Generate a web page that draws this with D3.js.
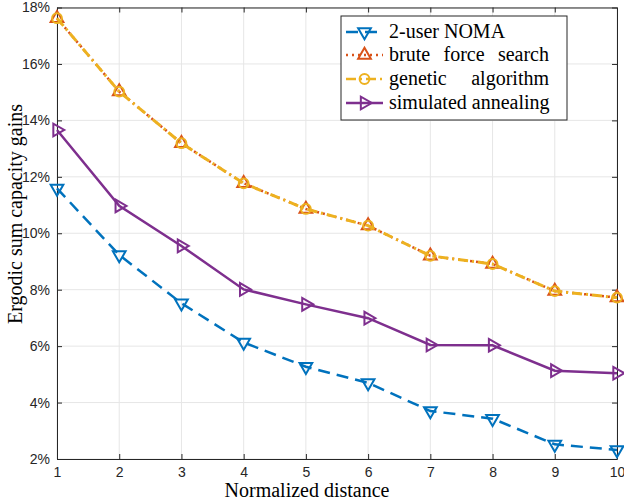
<!DOCTYPE html>
<html>

<head>
    <style>
        body {
            margin: 0;
            background: #fff;
        }

        svg {
            display: block;
        }
    </style>
    <script src="https://cdn.jsdelivr.net/npm/d3@7"></script>
    <title>Ergodic sum capacity gains</title>
</head>

<body>
    <div id="chart"></div>

    <script>
        // Data
        const distances = [1, 2, 3, 4, 5, 6, 7, 8, 9, 10];
        const noma2 = [11.59, 9.23, 7.52, 6.13, 5.27, 4.70, 3.70, 3.43, 2.52, 2.32];
        const bruteForce = [17.62, 15.02, 13.19, 11.77, 10.86, 10.27, 9.20, 8.91, 7.95, 7.72];
        const genetic = [17.62, 15.02, 13.19, 11.77, 10.86, 10.27, 9.20, 8.91, 7.95, 7.72];
        const annealing = [13.66, 10.97, 9.55, 8.01, 7.48, 6.99, 6.04, 6.03, 5.13, 5.04];
        const yTicks = [2, 4, 6, 8, 10, 12, 14, 16, 18];
        const seriesNames = ["2-user NOMA", "brute force search", "genetic algorithm", "simulated annealing"];

        const width = 624, height = 503;
        const margin = { top: 7.5, right: 7, bottom: 44, left: 57 };
        const axisColor = "#262626";

        const svg = d3.select("#chart").append("svg")
            .attr("width", width)
            .attr("height", height);

        const x = d3.scaleLinear().domain([1, 10]).range([margin.left, width - margin.right]);
        const y = d3.scaleLinear().domain([2, 18]).range([height - margin.bottom, margin.top]);

        // grid
        const grid = svg.append("g").attr("stroke", "#e6e6e6").attr("stroke-width", 1);
        grid.selectAll(".gx").data(distances).enter().append("line")
            .attr("x1", d => x(d)).attr("x2", d => x(d))
            .attr("y1", y(2)).attr("y2", y(18));
        grid.selectAll(".gy").data(yTicks).enter().append("line")
            .attr("x1", x(1)).attr("x2", x(10))
            .attr("y1", d => y(d)).attr("y2", d => y(d));

        // axes (MATLAB box style, ticks inside)
        const tickFont = "'Liberation Sans', Arial, sans-serif";
        const xAxis = svg.append("g")
            .attr("transform", `translate(0,${y(2)})`)
            .call(d3.axisBottom(x).tickValues(distances).tickSizeInner(-5).tickSizeOuter(0).tickPadding(10).tickFormat(d3.format("d")));
        const yAxis = svg.append("g")
            .attr("transform", `translate(${x(1)},0)`)
            .call(d3.axisLeft(y).tickValues(yTicks).tickSizeInner(-5).tickSizeOuter(0).tickPadding(7).tickFormat(d => d + "%"));
        const xTop = svg.append("g")
            .attr("transform", `translate(0,${y(18)})`)
            .call(d3.axisTop(x).tickValues(distances).tickSizeInner(-5).tickSizeOuter(0).tickFormat(""));
        const yRight = svg.append("g")
            .attr("transform", `translate(${x(10)},0)`)
            .call(d3.axisRight(y).tickValues(yTicks).tickSizeInner(-5).tickSizeOuter(0).tickFormat(""));

        [xAxis, yAxis, xTop, yRight].forEach(g => {
            g.selectAll("path.domain").attr("stroke", axisColor).attr("stroke-width", 1);
            g.selectAll(".tick line").attr("stroke", axisColor).attr("stroke-width", 1);
            g.selectAll(".tick text").attr("fill", axisColor)
                .style("font-family", tickFont).style("font-size", "14px");
        });
        xAxis.selectAll(".tick text").attr("dy", "0.6em");

        // axis titles
        const serif = "'Liberation Serif', 'Times New Roman', serif";
        svg.append("text")
            .attr("x", 307).attr("y", 497)
            .attr("text-anchor", "middle")
            .style("font-family", serif).style("font-size", "20px").attr("fill", "#000")
            .text("Normalized distance");
        svg.append("text")
            .attr("transform", "translate(22,214) rotate(-90)")
            .attr("text-anchor", "middle")
            .style("font-family", serif).style("font-size", "20px").attr("fill", "#000")
            .text("Ergodic sum capacity gains");

        // series
        const series = [
            { name: seriesNames[0], values: noma2, color: "#0072BD", dash: "12,7", marker: "down", width: 2.5 },
            { name: seriesNames[1], values: bruteForce, color: "#D95319", dash: "2,4", marker: "up", width: 2.5 },
            { name: seriesNames[2], values: genetic, color: "#EDB120", dash: "10,4,2,4", marker: "circle", width: 3 },
            { name: seriesNames[3], values: annealing, color: "#7E2F8E", dash: null, marker: "right", width: 2.5 }
        ];

        const line = d3.line().x((d, i) => x(distances[i])).y(d => y(d));

        const markerPath = (type) => {
            if (type === "circle") return d3.symbol(d3.symbolCircle, 75)();
            return d3.symbol(d3.symbolTriangle, 70)();
        };
        const markerRotate = { up: 0, down: 180, right: 90, circle: 0 };

        const drawMarker = (g, type, color, cx, cy) => {
            g.append("path")
                .attr("d", markerPath(type))
                .attr("transform", `translate(${cx},${cy}) rotate(${markerRotate[type]})`)
                .attr("fill", "none")
                .attr("stroke", color)
                .attr("stroke-width", 2);
        };

        const plot = svg.append("g");
        series.forEach(s => {
            const g = plot.append("g");
            g.append("path")
                .datum(s.values)
                .attr("d", line)
                .attr("fill", "none")
                .attr("stroke", s.color)
                .attr("stroke-width", s.width)
                .attr("stroke-dasharray", s.dash);
            s.values.forEach((v, i) => drawMarker(g, s.marker, s.color, x(distances[i]), y(v)));
        });

        // legend
        const lg = svg.append("g");
        lg.append("rect")
            .attr("x", 341).attr("y", 16)
            .attr("width", 226).attr("height", 104)
            .attr("fill", "#fff").attr("stroke", axisColor).attr("stroke-width", 1);

        const rowY = [32, 55, 79, 103];
        series.forEach((s, i) => {
            const ly = rowY[i];
            lg.append("line")
                .attr("x1", 346).attr("x2", 383)
                .attr("y1", ly).attr("y2", ly)
                .attr("stroke", s.color).attr("stroke-width", 2.5)
                .attr("stroke-dasharray", s.dash);
            drawMarker(lg, s.marker, s.color, 364.5, ly);
            const t = lg.append("text")
                .attr("x", 389).attr("y", ly + 6)
                .style("font-family", serif).style("font-size", "20px").attr("fill", "#000")
                .text(s.name);
            // justify the two middle rows to the right edge of the last row
            if (i === 1 || i === 2) {
                const natural = t.node().getComputedTextLength();
                const gaps = s.name.split(" ").length - 1;
                const extra = (549 - 389 - natural) / gaps;
                if (extra > 0) t.style("word-spacing", extra + "px");
            }
        });
    </script>
</body>

</html>
